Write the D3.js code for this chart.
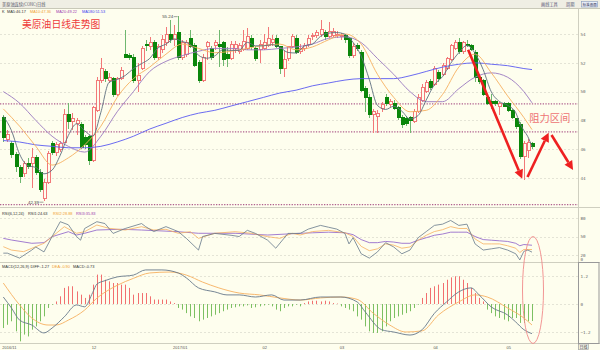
<!DOCTYPE html>
<html><head><meta charset="utf-8">
<script src="https://cdn.jsdelivr.net/npm/d3@7"></script>
<style>
html,body{margin:0;padding:0;background:#fefeee;}
svg{display:block;font-family:"Liberation Sans",Arial,sans-serif;}
</style></head><body>
<svg id="chart" width="600" height="350"></svg>
<script>
// ---------- DATA ----------
const openP = [48.2,46.7,46.4,45.6,44.7,44.3,45.0,45.0,45.4,44.4,
42.6,43.7,46.4,45.8,46.0,46.5,48.4,47.9,47.8,47.7,
46.8,46.85,45.25,48.7,50.8,51.4,50.8,50.9,49.8,50.9,
52.6,52.5,52.4,50.8,51.6,53.3,53.1,53.4,52.4,52.9,
53.4,54.0,53.6,54.1,52.4,52.6,53.7,53.2,52.0,50.8,
53.1,53.0,53.2,53.3,53.4,52.6,52.3,53.0,52.8,52.9,
53.0,53.7,53.0,52.9,53.0,53.2,53.4,53.7,53.1,51.6,
52.3,53.1,53.7,52.8,53.0,53.3,53.8,53.9,54.0,54.1,
53.8,53.9,53.9,53.8,53.9,53.7,52.5,53.2,52.7,50.2,
49.6,48.4,48.3,48.8,49.6,49.1,49.2,48.9,48.2,48.1,
48.2,47.9,48.6,49.4,50.0,50.7,50.5,51.3,51.2,51.6,
52.2,53.0,53.4,52.8,53.3,53.2,52.7,51.0,50.8,49.6,
49.3,49.3,49.0,49.2,49.2,48.7,48.1,47.7,45.5,45.9,
46.4];
const highP = [48.4,47.3,46.6,45.8,44.9,45.2,45.4,46.1,45.6,44.6,
43.9,45.9,46.6,46.5,46.6,48.8,49.2,48.5,48.2,47.9,
47.0,47.0,49.0,51.0,52.3,51.6,51.3,51.0,51.0,51.7,
54.3,52.7,52.6,52.0,53.2,53.6,53.8,53.6,53.3,53.9,
54.5,55.0,54.6,55.24,53.6,53.6,54.3,53.4,52.2,52.6,
53.5,53.2,53.6,54.3,53.5,53.1,53.5,53.5,53.4,54.3,
54.4,53.9,53.2,53.6,54.0,54.5,53.9,53.9,53.2,52.8,
53.2,54.0,53.9,53.3,53.4,53.9,54.1,54.3,55.0,54.3,
54.8,54.4,54.2,54.1,54.0,53.8,53.4,53.4,52.9,50.4,
49.8,48.8,48.7,49.3,49.8,49.5,49.4,49.0,48.4,48.3,
48.3,48.8,49.8,50.5,50.8,50.9,51.8,51.5,52.0,52.4,
53.3,53.6,53.7,53.5,53.6,53.3,52.9,51.2,50.9,49.8,
49.8,49.4,49.3,49.3,49.3,48.8,48.2,47.9,46.6,46.7,
46.5];
const lowP = [46.5,46.5,45.4,44.4,43.65,44.1,44.6,43.3,44.2,43.0,
42.39,43.6,45.6,45.5,45.8,46.4,47.4,47.3,47.0,46.0,
46.0,44.9,45.1,48.6,50.6,50.7,50.6,49.6,49.7,50.8,
52.3,52.2,50.6,50.0,51.5,52.8,52.9,52.2,52.2,52.7,
53.2,53.4,53.2,52.2,52.2,52.4,53.0,51.7,50.6,50.7,
52.2,52.2,52.9,51.7,51.8,51.7,52.2,52.7,52.6,52.8,
52.9,52.9,52.1,52.0,52.9,53.1,53.2,53.0,51.2,51.0,
52.1,53.0,52.6,52.6,52.8,53.1,53.6,53.7,53.8,53.6,
53.7,53.8,53.7,53.6,53.4,52.3,52.3,52.8,50.0,48.6,
48.2,47.1,47.1,48.6,49.0,48.9,48.7,48.0,47.5,47.6,
47.1,47.8,48.5,49.3,49.9,50.1,50.4,50.7,51.1,51.5,
52.1,52.9,52.6,52.6,53.1,52.8,50.7,50.5,49.7,49.1,
48.8,49.0,48.4,48.9,48.6,48.1,47.4,45.3,43.86,45.4,
46.0];
const closeP = [46.8,47.0,45.6,44.8,44.1,45.0,44.8,45.4,44.35,43.2,
43.7,45.7,45.8,46.3,46.4,48.4,47.9,48.1,48.0,46.1,
46.3,45.25,48.9,50.8,51.6,50.9,51.0,49.8,50.9,51.5,
52.4,52.4,50.8,51.1,53.0,53.2,53.4,52.4,53.1,53.6,
54.0,53.6,54.0,52.4,53.4,53.4,53.1,51.8,50.8,52.4,
53.4,52.4,53.4,53.1,52.2,52.3,53.3,53.3,53.2,53.5,
53.8,53.1,52.3,53.3,53.4,53.7,53.6,53.1,51.6,52.2,
53.1,53.8,52.7,53.0,53.2,53.7,53.9,54.1,54.3,53.8,
54.2,54.2,54.0,53.9,53.6,52.5,53.1,53.0,50.1,49.6,
48.4,48.6,48.5,49.1,49.2,49.3,48.8,48.2,47.7,47.8,
48.0,48.6,49.6,50.3,50.6,50.3,51.6,50.9,51.8,52.3,
53.2,53.4,52.8,53.4,53.2,52.9,51.0,50.7,49.8,49.2,
49.2,49.15,49.2,49.0,48.7,48.2,47.6,45.5,46.4,46.5,
46.2];

// moving averages: [candle index, value]
const ma5Pts = [[0,48.3],[2,47.3],[4,45.66],[6,44.86],[8,44.73],[10,44.29],[12,44.55],[14,45.58],[16,46.96],[18,47.76],[20,47.28],[22,46.91],[24,48.57],[26,50.64],[28,50.84],[30,51.12],[32,51.6],[34,51.94],[36,52.3],[38,53.02],[40,53.3],[42,53.66],[44,53.48],[46,53.28],[48,52.52],[50,52.32],[52,52.48],[54,52.9],[56,52.86],[58,52.86],[60,53.42],[62,53.18],[64,53.18],[66,53.26],[68,53.08],[70,52.72],[72,52.68],[74,53.16],[76,53.3],[78,53.84],[80,54.06],[82,54.1],[84,53.98],[86,53.42],[88,52.46],[90,50.84],[92,49.04],[94,48.76],[96,48.98],[98,48.64],[100,48.1],[102,48.34],[104,49.42],[106,50.48],[108,51.04],[110,51.96],[112,52.7],[114,53.2],[116,52.66],[118,51.52],[120,49.98],[122,49.31],[124,49.05],[126,48.54],[127,47.8],[128,47.3],[129,46.86],[130,46.17]];
const ma10Pts = [[0,48.8],[4,47.6],[8,46.2],[12,44.9],[16,45.4],[20,46.3],[24,47.6],[28,49.6],[32,50.9],[36,51.7],[40,52.6],[44,53.3],[48,53.0],[52,52.7],[56,52.8],[60,53.0],[64,53.2],[68,53.3],[72,52.9],[76,53.1],[80,53.6],[84,54.0],[88,53.3],[92,51.2],[96,49.6],[100,48.6],[104,48.7],[108,49.8],[112,51.7],[116,52.6],[120,51.3],[124,49.7],[128,48.2],[130,47.36]];
const ma20Pts = [[0,50.0],[4,49.2],[8,48.0],[12,46.9],[16,46.2],[20,45.8],[24,46.9],[28,48.6],[32,50.0],[36,51.4],[40,52.1],[44,52.5],[48,52.8],[52,53.0],[56,53.0],[60,52.9],[64,52.9],[68,53.0],[72,53.1],[76,53.3],[80,53.7],[84,53.8],[88,53.4],[92,52.3],[96,51.2],[100,50.0],[104,49.3],[108,49.3],[112,50.2],[116,51.0],[120,51.3],[124,51.0],[128,50.0],[130,49.22]];
const ma180Pts = [[0,46.6],[4,46.5],[8,46.3],[12,46.2],[16,46.1],[20,46.1],[24,46.2],[28,46.5],[32,46.9],[36,47.4],[40,47.8],[44,48.2],[48,48.5],[52,48.7],[56,49.0],[60,49.3],[64,49.6],[68,49.9],[72,50.1],[76,50.4],[80,50.6],[84,50.8],[88,50.9],[92,50.9],[96,50.9],[100,51.1],[104,51.4],[108,51.7],[112,51.9],[116,52.0],[120,51.9],[124,51.8],[128,51.6],[130,51.53]];

// RSI(6,12,24)
const rsi1Pts = [[0,23],[1,23],[4,15],[7,28],[8,33],[10,25],[12,50],[14,74],[16,69],[18,50],[19,44],[20,63],[23,74],[25,71],[27,55],[30,63],[34,71],[35,66],[37,58],[40,66],[43,58],[45,47],[48,28],[49,50],[52,55],[56,52],[58,50],[60,60],[62,55],[65,44],[67,31],[70,55],[73,55],[75,62],[78,68],[80,65],[82,62],[84,55],[85,38],[86,48],[88,22],[90,15],[92,25],[94,40],[96,33],[98,22],[100,28],[102,48],[104,58],[106,68],[108,70],[110,76],[112,68],[114,70],[116,38],[118,28],[120,30],[122,32],[124,28],[126,22],[127,12],[128,26],[129,28],[130,24.63]];
const rsi2Pts = [[0,33.5],[2,28],[5,25.4],[7,30.8],[10,39],[12,49.7],[15,65.9],[18,55.2],[20,57.8],[23,68.6],[26,63.3],[30,60.5],[34,65.9],[37,60.5],[40,61.7],[43,55.2],[46,57.8],[48,47],[52,55.2],[57,57.8],[61,55.2],[65,49.7],[68,47],[71,55.2],[73,52.4],[76,58],[80,60],[84,56],[86,50],[88,34],[90,27],[92,30],[94,38],[96,36],[98,31],[100,33],[102,44],[104,52],[106,58],[108,61],[110,66],[112,63],[114,63],[116,46],[118,38],[120,38],[122,38],[124,35],[126,31],[127,24],[128,29],[130,28.88]];
const rsi3Pts = [[0,47],[2,44.3],[7,39],[10,40],[12,49.7],[16,57.8],[18,52.4],[20,55.2],[23,60.5],[29,61.7],[34,60.5],[43,57.8],[48,55.2],[57,55.2],[65,52.4],[73,55.2],[76,56],[80,57],[84,56],[86,53],[88,45],[90,40],[92,40],[94,42],[96,41],[98,39],[100,39],[102,44],[104,48],[106,52],[108,54],[110,57],[112,57],[114,57],[116,50],[118,45],[120,44],[122,43],[124,42],[126,39],[127,35],[128,37],[130,35.83]];

// MACD(12,26,9)
const diffPts = [[0,0.3],[2,-0.17],[4,-0.69],[7,-0.9],[10,-1.24],[12,-1.03],[15,-0.55],[18,-0.04],[20,-0.12],[22,0.5],[23,0.85],[25,1.0],[28,1.16],[32,1.24],[35,1.46],[39,1.46],[43,1.33],[45,1.12],[48,0.69],[52,0.52],[55,0.39],[58,0.39],[62,0.3],[66,0.39],[69,0.17],[73,0.17],[78,0.3],[83,0.3],[87,0.09],[89,-0.34],[93,-1.1],[96,-1.2],[100,-1.33],[103,-1.1],[106,-0.4],[109,0.09],[112,0.52],[115,0.69],[117,0.39],[120,-0.13],[124,-0.47],[126,-0.77],[128,-1.1],[130,-1.27]];
const deaPts = [[0,0.9],[4,-0.04],[7,-0.6],[11,-0.9],[13,-0.9],[16,-0.69],[20,-0.26],[23,0.25],[28,0.8],[32,1.1],[36,1.33],[41,1.37],[45,1.24],[49,0.94],[53,0.69],[58,0.47],[63,0.39],[68,0.26],[73,0.17],[78,0.26],[83,0.3],[87,0.2],[91,-0.4],[95,-0.9],[99,-1.2],[103,-1.15],[107,-0.47],[112,0.09],[116,0.39],[119,0.3],[124,-0.17],[128,-0.6],[130,-0.9]];
const macdBars = [-1.03,-0.89,-0.74,-1.17,-1.6,-1.31,-1.39,-1.1,-0.96,-0.74,
-0.53,-0.17,-0.03,0.11,0.33,0.69,0.76,0.76,0.54,0.4,
0.26,0.4,0.83,1.26,1.26,1.04,0.97,0.9,0.9,0.83,
0.83,0.69,0.4,0.47,0.47,0.47,0.33,0.19,0.19,0.19,
0.19,0.11,0.04,-0.17,-0.24,-0.39,-0.53,-0.6,-0.74,-0.67,
-0.6,-0.53,-0.46,-0.39,-0.31,-0.24,-0.17,-0.14,-0.1,-0.1,
-0.06,-0.17,-0.14,-0.1,-0.06,-0.03,-0.1,-0.24,-0.31,-0.17,
-0.1,-0.1,-0.03,-0.1,0.04,0.11,0.14,0.14,0.11,0.14,
0.11,0.04,0.02,-0.1,-0.17,-0.24,-0.31,-0.53,-0.67,-0.96,
-1.17,-1.24,-1.24,-1.17,-0.96,-0.74,-0.6,-0.53,-0.46,-0.39,
-0.31,-0.17,-0.03,0.26,0.47,0.69,0.76,0.83,0.9,1.04,
1.14,1.19,1.19,1.04,0.9,0.69,0.47,0.26,0.11,-0.24,
-0.39,-0.53,-0.6,-0.67,-0.74,-0.6,-0.6,-0.81,-0.81,-0.74,
-0.73];

const priceTicks = [44,46,48,50,52,54];
const rsiTicks = [20,50,80];
const macdTicks = [-1.2,0,1.2];
const levelLines = [49.15,47.2,42.15];
const dateLabels = ["2016/11","12","2017/01","02","03","04","05"];
const dateIdx = [0,22,42,64,83,106,124];
const mainLegend = [["K","#333"],["MA5:46.17","#333"],["MA10:47.36","#f0a030"],["MA20:49.22","#a040b0"],["MA180:51.53","#3a3af0"]];
const mainLegendX = [2,7,30,56,82];
const rsiLegend = [["RSI(6,12,24)","#333"],["RSI1:24.63","#333"],["RSI2:28.88","#f0a030"],["RSI3:35.83","#a040b0"]];
const rsiLegendX = [2,28,53,76];
const macdLegend = [["MACD(12,26,9)","#333"],["DIFF:-1.27","#333"],["DEA:-0.90","#f0a030"],["MACD:-0.73","#333"]];
const macdLegendX = [2,30.5,52,73];
// annotation arrows in data coords [i0,p0,i1,p1]
const arrows = [[114.3,52.9,127.6,43.95],[128.9,44.07,134.1,47.15],[134.8,46.99,140.1,44.56]];

// ---------- CHART ----------
const svg = d3.select('#chart');
const AX = 578, BG = '#fefeee';
svg.append('rect').attr('width',600).attr('height',350).attr('fill',BG);

const x = d3.scaleLinear().domain([0,130]).range([3.3,532]);
const yP = d3.scaleLinear().domain([44,54]).range([178,34]);
const yR = d3.scaleLinear().domain([20,80]).range([255,218]);
const yM = d3.scaleLinear().domain([-1.2,1.2]).range([332,276]);
const px = i => Math.round(x(i)) + 0.5;

// title bar
svg.append('rect').attr('x',0).attr('y',0).attr('width',600).attr('height',8).attr('fill','#efeee4');
svg.append('line').attr('x1',0).attr('x2',600).attr('y1',8.5).attr('y2',8.5).attr('stroke','#c8c8b8');
svg.append('text').attr('x',2).attr('y',5.6).attr('font-size',4.2).attr('fill','#556')
  .attr('font-family','"Noto Sans CJK SC"').text('美原油连续(CONC)日线');
svg.append('text').attr('x',541).attr('y',5.6).attr('font-size',4.2).attr('fill','#557')
  .attr('font-family','"Noto Sans CJK SC"').text('画线工具');
svg.append('text').attr('x',566).attr('y',5.6).attr('font-size',4.2).attr('fill','#557')
  .attr('font-family','"Noto Sans CJK SC"').text('周期');
svg.append('rect').attr('x',581.5).attr('y',1.5).attr('width',16).attr('height',5.5).attr('fill','#e8eef8').attr('stroke','#8899bb').attr('stroke-width',0.6);
svg.append('text').attr('x',582.5).attr('y',5.7).attr('font-size',3.6).attr('fill','#335')
  .attr('font-family','"Noto Sans CJK SC"').text('标准画面');

// panel frames
[207.5,262.5,343.5].forEach(yy=>svg.append('line').attr('x1',0).attr('x2',600).attr('y1',yy).attr('y2',yy).attr('stroke','#cfcfc0'));
svg.append('line').attr('x1',AX+0.5).attr('x2',AX+0.5).attr('y1',8.5).attr('y2',350).attr('stroke','#cfcfc0');
svg.append('rect').attr('x',AX+0.5).attr('y',262.5).attr('width',20.5).attr('height',81).attr('fill','none').attr('stroke','#999');
svg.append('rect').attr('x',AX+0.5).attr('y',344).attr('width',10).attr('height',5.5).attr('fill','#f4f4ea').attr('stroke','#999').attr('stroke-width',0.6);
svg.append('text').attr('x',579.5).attr('y',348.6).attr('font-size',4).attr('fill','#444')
  .attr('font-family','"Noto Sans CJK SC"').text('日线');

// grids
const grid = svg.append('g').attr('stroke','#d9d9cc').attr('stroke-dasharray','2,2').attr('stroke-width',0.7);
priceTicks.forEach(t=>grid.append('line').attr('x1',0).attr('x2',AX).attr('y1',Math.round(yP(t))+0.5).attr('y2',Math.round(yP(t))+0.5));
rsiTicks.forEach(t=>grid.append('line').attr('x1',0).attr('x2',AX).attr('y1',Math.round(yR(t))+0.5).attr('y2',Math.round(yR(t))+0.5));
macdTicks.forEach(t=>grid.append('line').attr('x1',0).attr('x2',AX).attr('y1',Math.round(yM(t))+0.5).attr('y2',Math.round(yM(t))+0.5));

// axes labels (right)
function rAxis(scale, ticks, fmt){
  const g = svg.append('g').attr('transform',`translate(${AX+1},0)`)
    .call(d3.axisRight(scale).tickValues(ticks).tickSize(0).tickPadding(1.5).tickFormat(fmt));
  g.select('.domain').remove();
  g.selectAll('text').attr('font-size',4.2).attr('fill','#666').attr('font-family','"DejaVu Sans Mono",monospace');
}
rAxis(yP, priceTicks, d3.format('d'));
rAxis(yR, rsiTicks, d3.format('d'));
rAxis(yM, macdTicks, d=> d===0?'0':d3.format('.1f')(d));
svg.append('text').attr('x',580.5).attr('y',260.5).attr('font-size',4.2).attr('fill','#666').attr('font-family','"DejaVu Sans Mono",monospace').text('0');

// level dotted lines
levelLines.forEach(v=>svg.append('line').attr('x1',0).attr('x2',AX).attr('y1',yP(v)).attr('y2',yP(v))
  .attr('stroke','#b0608e').attr('stroke-width',1.1).attr('stroke-dasharray','1.3,1.4'));

// candles
const cd = d3.range(openP.length).map(i=>({i,o:openP[i],h:highP[i],l:lowP[i],c:closeP[i]}));
const cg = svg.append('g').attr('shape-rendering','crispEdges');
cg.selectAll('line').data(cd).join('line')
  .attr('x1',d=>px(d.i)).attr('x2',d=>px(d.i))
  .attr('y1',d=>yP(d.h)).attr('y2',d=>yP(d.l))
  .attr('stroke',d=>d.c>=d.o?'#f27878':'#6fb86f');
cg.selectAll('rect').data(cd).join('rect')
  .attr('x',d=>px(d.i)-1.5).attr('width',3)
  .attr('y',d=>yP(Math.max(d.o,d.c)))
  .attr('height',d=>Math.max(0.8,Math.abs(yP(d.o)-yP(d.c))))
  .attr('fill',d=>d.c>=d.o?BG:'#0a860a')
  .attr('stroke',d=>d.c>=d.o?'#f27878':'#0a860a').attr('stroke-width',1);

// MA lines
const lineP = d3.line().x(d=>x(d[0])).y(d=>yP(d[1])).curve(d3.curveMonotoneX);
[[ma180Pts,'#5a5af0'],[ma20Pts,'#9a78c0'],[ma10Pts,'#f6b060'],[ma5Pts,'#5d6e7e']].forEach(([pts,col])=>
  svg.append('path').attr('d',lineP(pts)).attr('fill','none').attr('stroke',col).attr('stroke-width',0.9));

// high/low labels
svg.append('text').attr('x',x(43)-5).attr('y',yP(55.24)+1.5).attr('text-anchor','end').attr('font-size',4.4).attr('fill','#444').text('55.24');
svg.append('line').attr('x1',x(43)-4.5).attr('x2',x(43)-0.5).attr('y1',yP(55.24)+0.5).attr('y2',yP(55.24)+0.5).attr('stroke','#444').attr('stroke-width',0.5);
svg.append('text').attr('x',x(10)-5).attr('y',yP(42.39)+2.5).attr('text-anchor','end').attr('font-size',4.4).attr('fill','#444').text('42.39');
svg.append('line').attr('x1',x(10)-4.5).attr('x2',x(10)-0.5).attr('y1',yP(42.39)+1).attr('y2',yP(42.39)+1).attr('stroke','#444').attr('stroke-width',0.5);

// legends
function legend(items, xs, yy){
  items.forEach((it,k)=>svg.append('text').attr('x',xs[k]).attr('y',yy).attr('font-size',3.9).attr('fill',it[1]).text(it[0]));
}
legend(mainLegend, mainLegendX, 12.6);
legend(rsiLegend, rsiLegendX, 214.8);
legend(macdLegend, macdLegendX, 268);

// RSI lines
const lineR = d3.line().x(d=>x(d[0])).y(d=>yR(d[1]));
[[rsi3Pts,'#8a5cc8'],[rsi2Pts,'#f6b060'],[rsi1Pts,'#66788a']].forEach(([pts,col])=>
  svg.append('path').attr('d',lineR(pts)).attr('fill','none').attr('stroke',col).attr('stroke-width',0.8));

// MACD histogram
const mg = svg.append('g');
mg.selectAll('rect').data(macdBars.map((v,i)=>({i,v}))).join('rect')
  .attr('x',d=>Math.round(x(d.i))).attr('width',1)
  .attr('y',d=>Math.min(yM(0),yM(d.v))).attr('height',d=>Math.abs(yM(d.v)-yM(0)))
  .attr('fill',d=>d.v>=0?'#f26f6f':'#7cc062');
const lineM = d3.line().x(d=>x(d[0])).y(d=>yM(d[1])).curve(d3.curveMonotoneX);
svg.append('path').attr('d',lineM(deaPts)).attr('fill','none').attr('stroke','#f6b060').attr('stroke-width',0.9);
svg.append('path').attr('d',lineM(diffPts)).attr('fill','none').attr('stroke','#66788a').attr('stroke-width',0.9);

// date labels
dateLabels.forEach((t,k)=>svg.append('text').attr('x',x(dateIdx[k])-1).attr('y',348.5).attr('font-size',4).attr('fill','#555').text(t));

// annotations
svg.append('text').attr('x',22).attr('y',27.5).attr('font-size',9.8).attr('fill','#ee3a3a')
  .attr('font-family','"Noto Sans CJK SC"').text('美原油日线走势图');
svg.append('text').attr('x',x(129.3)).attr('y',yP(47.9)).attr('font-size',10.3).attr('fill','#ee7474')
  .attr('font-family','"Noto Sans CJK SC"').text('阻力区间');
arrows.forEach(a=>{
  const x0=x(a[0]), y0=yP(a[1]), x1=x(a[2]), y1=yP(a[3]);
  const dx=x1-x0, dy=y1-y0, L=Math.hypot(dx,dy), ux=dx/L, uy=dy/L;
  const hl=9, hw=4.5;
  const bx=x1-ux*hl, by=y1-uy*hl;
  svg.append('line').attr('x1',x0).attr('y1',y0).attr('x2',bx).attr('y2',by).attr('stroke','#ee2020').attr('stroke-width',2.6);
  svg.append('polygon').attr('points',[[x1,y1],[bx-uy*hw,by+ux*hw],[bx+uy*hw,by-ux*hw]].map(p=>p.join(',')).join(' ')).attr('fill','#ee2020');
});
svg.append('ellipse').attr('cx',533).attr('cy',290).attr('rx',10.5).attr('ry',53.5).attr('fill','none').attr('stroke','#f08a8a').attr('stroke-width',0.9);
</script></body></html>
